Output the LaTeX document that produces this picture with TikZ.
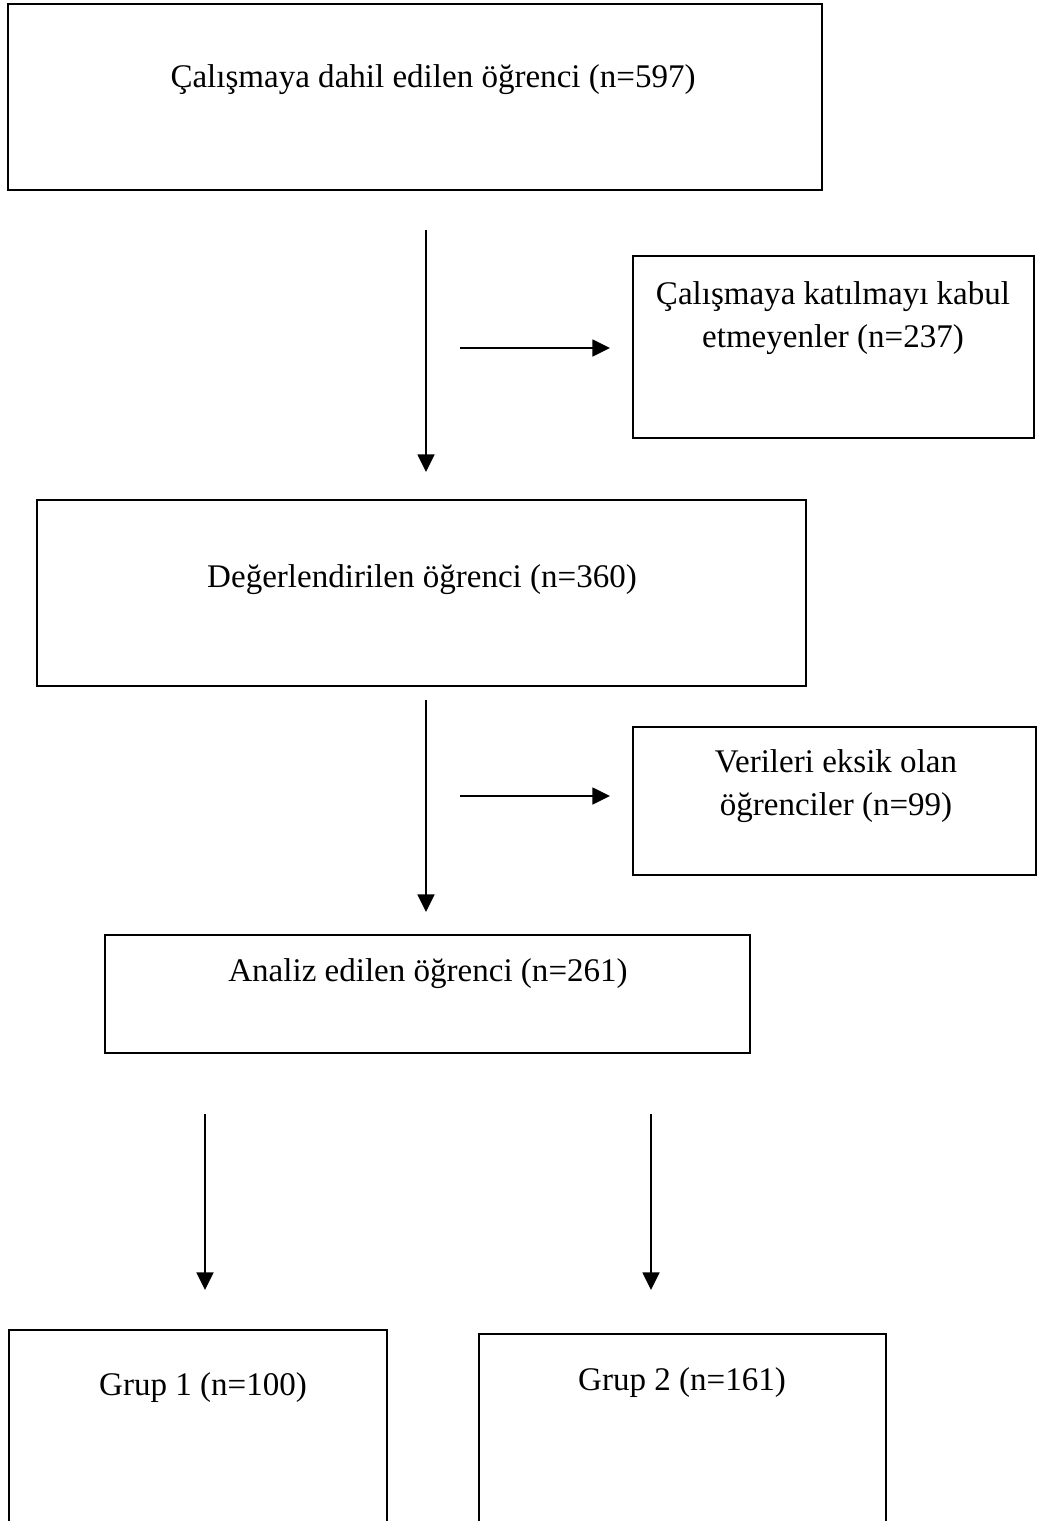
\documentclass[tikz,border=0pt]{standalone}
\usepackage{fontspec}
\setmainfont{Liberation Serif}
\usetikzlibrary{
    arrows.meta,
    positioning,
    calc
}
\definecolor{lineBlack}{RGB}{0, 0, 0}
\definecolor{textBlack}{RGB}{0, 0, 0}
\definecolor{bgWhite}{RGB}{255, 255, 255}
\tikzset{
    box/.style={
        rectangle,
        draw=lineBlack,
        line width=1.2pt,
        fill=bgWhite,
        inner sep=0pt
    },
    lbl/.style={
        font=\fontsize{18.8}{24.5}\selectfont,
        text=textBlack,
        align=center,
        inner sep=0pt
    },
    flow/.style={
        draw=lineBlack,
        line width=1.3pt,
        -{Triangle[length=10pt, width=9.5pt]}
    }
}

\begin{document}
\begin{tikzpicture}[x=0.02cm, y=-0.02cm]
    \useasboundingbox (0,0) rectangle (1051,1521);
    \clip (0,0) rectangle (1051,1521);
    \fill[bgWhite] (0,0) rectangle (1051,1521);

    % 1. Included students (Top)
    \node[box, minimum width=16.28cm, minimum height=3.72cm] (dahil) at (415,97) {};
    \node[lbl] (dahilT) at (433,80) {Çalışmaya dahil edilen öğrenci (n=597)};

    % 2. Refused (Side)
    \node[box, minimum width=8.02cm, minimum height=3.64cm] (katil) at (833.5,347) {};
    \node[lbl] (katilT) at (833,318) {Çalışmaya katılmayı kabul\\ etmeyenler (n=237)};

    % 3. Evaluated
    \node[box, minimum width=15.38cm, minimum height=3.72cm] (deger) at (421.5,593) {};
    \node[lbl] (degerT) at (422,580) {Değerlendirilen öğrenci (n=360)};

    % 4. Missing data (Side)
    \node[box, minimum width=8.06cm, minimum height=2.96cm] (eksik) at (834.5,801) {};
    \node[lbl] (eksikT) at (836,786) {Verileri eksik olan\\ öğrenciler (n=99)};

    % 5. Analysed
    \node[box, minimum width=12.9cm, minimum height=2.36cm] (analiz) at (427.5,994) {};
    \node[lbl] (analizT) at (428,974) {Analiz edilen öğrenci (n=261)};

    % 6. Groups (Bottom, cut by the page)
    \node[box, minimum width=7.56cm, minimum height=5cm] (grup1) at (198,1455) {};
    \node[lbl] (grup1T) at (203,1388) {Grup 1 (n=100)};
    \node[box, minimum width=8.14cm, minimum height=5cm] (grup2) at (682.5,1459) {};
    \node[lbl] (grup2T) at (682,1383) {Grup 2 (n=161)};

    % Arrow ends
    \coordinate (a1s) at (426,230);
    \coordinate (a1e) at (426,472);
    \coordinate (h1s) at (460,348);
    \coordinate (h1e) at (610,348);
    \coordinate (a2s) at (426,700);
    \coordinate (a2e) at (426,912);
    \coordinate (h2s) at (460,796);
    \coordinate (h2e) at (610,796);
    \coordinate (a3s) at (205,1114);
    \coordinate (a3e) at (205,1290);
    \coordinate (a4s) at (651,1114);
    \coordinate (a4e) at (651,1290);

    % Connections
    \draw[flow] (a1s) -- (a1e);
    \draw[flow] (h1s) -- (h1e);
    \draw[flow] (a2s) -- (a2e);
    \draw[flow] (h2s) -- (h2e);
    \draw[flow] (a3s) -- (a3e);
    \draw[flow] (a4s) -- (a4e);
\end{tikzpicture}
\end{document}
